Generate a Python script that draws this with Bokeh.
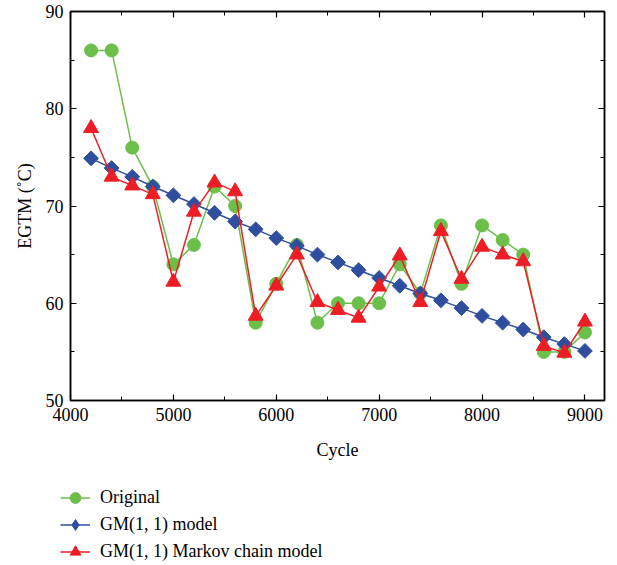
from math import pi
from bokeh.plotting import figure
from bokeh.layouts import column
from bokeh.models import LinearAxis, Legend, LegendItem, Range1d, FixedTicker
from bokeh.embed import file_html
from bokeh.resources import INLINE

cycles = [4200, 4400, 4600, 4800, 5000, 5200, 5400, 5600, 5800, 6000, 6200, 6400, 6600,
          6800, 7000, 7200, 7400, 7600, 7800, 8000, 8200, 8400, 8600, 8800, 9000]
original = [86, 86, 76, 72, 64, 66, 72, 70, 58, 62, 66, 58, 60,
            60, 60, 64, 61, 68, 62, 68, 66.5, 65, 55, 55, 57]
gm = [74.9, 73.9, 73.0, 72.0, 71.1, 70.2, 69.3, 68.4, 67.6, 66.7, 65.9, 65.0, 64.2,
      63.4, 62.6, 61.8, 61.0, 60.3, 59.5, 58.7, 58.0, 57.3, 56.5, 55.8, 55.1]
markov = [78.0, 73.0, 72.1, 71.2, 62.2, 69.4, 72.4, 71.5, 58.7, 61.8, 65.0, 60.1, 59.3,
          58.5, 61.7, 64.9, 60.1, 67.4, 62.5, 65.8, 65.0, 64.3, 55.6, 54.9, 58.1]
series_names = ["Original", "GM(1, 1) model", "GM(1, 1) Markov chain model"]

x_ticks = [4000, 5000, 6000, 7000, 8000, 9000]
x_minor = [4500, 5500, 6500, 7500, 8500]
y_ticks = [50, 60, 70, 80, 90]
y_minor = [55, 65, 75, 85]

FONT = "Liberation Serif"
FS = "18px"
GREEN = "#6cbf4a"
BLUE = "#2f4e9e"
RED = "#ee1d25"

p = figure(width=608, height=470, output_backend="svg", toolbar_location=None,
           x_range=Range1d(4000, 9190), y_range=Range1d(50, 90),
           min_border_left=70, min_border_right=4, min_border_top=11, min_border_bottom=70)
p.frame_align = False
p.xgrid.visible = False
p.ygrid.visible = False
p.outline_line_color = "black"
p.outline_line_width = 1.5
p.background_fill_color = "white"
p.border_fill_color = "white"

xt = FixedTicker(ticks=x_ticks, minor_ticks=x_minor)
yt = FixedTicker(ticks=y_ticks, minor_ticks=y_minor)

def style_axis(ax, labels=True):
    ax.axis_line_color = "black"
    ax.axis_line_width = 1.5
    ax.major_tick_in = 6
    ax.major_tick_out = 0
    ax.minor_tick_in = 4
    ax.minor_tick_out = 0
    ax.major_tick_line_width = 1.2
    ax.minor_tick_line_width = 1.0
    ax.major_label_text_font = FONT
    ax.major_label_text_font_size = FS if labels else "0px"
    ax.major_label_text_color = "black" if labels else None
    ax.major_label_standoff = 7 if labels else 0
    ax.axis_label_text_font = FONT
    ax.axis_label_text_font_size = FS
    ax.axis_label_text_color = "black"
    ax.axis_label_text_font_style = "normal"

p.xaxis.ticker = xt
p.yaxis.ticker = yt
p.xaxis.axis_label = "Cycle"
p.yaxis.axis_label = "EGTM (˚C)"
style_axis(p.xaxis[0])
style_axis(p.yaxis[0])
p.xaxis.axis_label_standoff = 16
p.yaxis.axis_label_standoff = 8

top = LinearAxis(ticker=xt)
right = LinearAxis(ticker=yt)
style_axis(top, labels=False)
style_axis(right, labels=False)
p.add_layout(top, "above")
p.add_layout(right, "right")

def draw(fig, visible=True, legend_copy=False):
    r = []
    r.append((fig.line(cycles, original, line_color=GREEN, line_width=1.5, visible=visible),
              fig.scatter(cycles, original, marker="circle", size=13, fill_color=GREEN,
                          line_color=GREEN, visible=visible)))
    if legend_copy:
        gm_marker = fig.scatter(cycles, gm, marker="diamond", size=15, fill_color=BLUE,
                                line_color=BLUE, visible=visible)
    else:
        gm_marker = fig.scatter(cycles, gm, marker="square", angle=pi / 4, size=10.5,
                                fill_color=BLUE, line_color=BLUE, visible=visible)
    r.append((fig.line(cycles, gm, line_color=BLUE, line_width=1.5, visible=visible), gm_marker))
    r.append((fig.line(cycles, markov, line_color=RED, line_width=1.5, visible=visible),
              fig.scatter(cycles, markov, marker="triangle", size=15, fill_color=RED,
                          line_color=RED, visible=visible)))
    return r

draw(p)

# legend panel below the chart
lp = figure(width=608, height=95, output_backend="svg", toolbar_location=None,
            x_range=Range1d(4000, 9190), y_range=Range1d(50, 90),
            min_border=0, min_border_left=0, min_border_right=0,
            min_border_top=0, min_border_bottom=0)
lp.frame_align = False
lp.axis.visible = False
lp.grid.visible = False
lp.outline_line_color = None
lp.background_fill_color = "white"
lp.border_fill_color = "white"
lr = draw(lp, visible=False, legend_copy=True)

legend = Legend(items=[LegendItem(label=n, renderers=list(rr)) for n, rr in zip(series_names, lr)],
                location=(60, 0), orientation="vertical")
legend.label_text_font = FONT
legend.label_text_font_size = FS
legend.label_text_color = "black"
legend.glyph_width = 30
legend.glyph_height = 27
legend.label_height = 27
legend.spacing = 0
legend.label_standoff = 10
legend.padding = 0
legend.margin = 0
legend.border_line_color = None
legend.background_fill_alpha = 0
legend.inactive_fill_alpha = 0
legend.click_policy = "none"
lp.add_layout(legend, "center")

layout = column(p, lp, spacing=0)
open("out.html", "w").write(file_html(layout, INLINE))
